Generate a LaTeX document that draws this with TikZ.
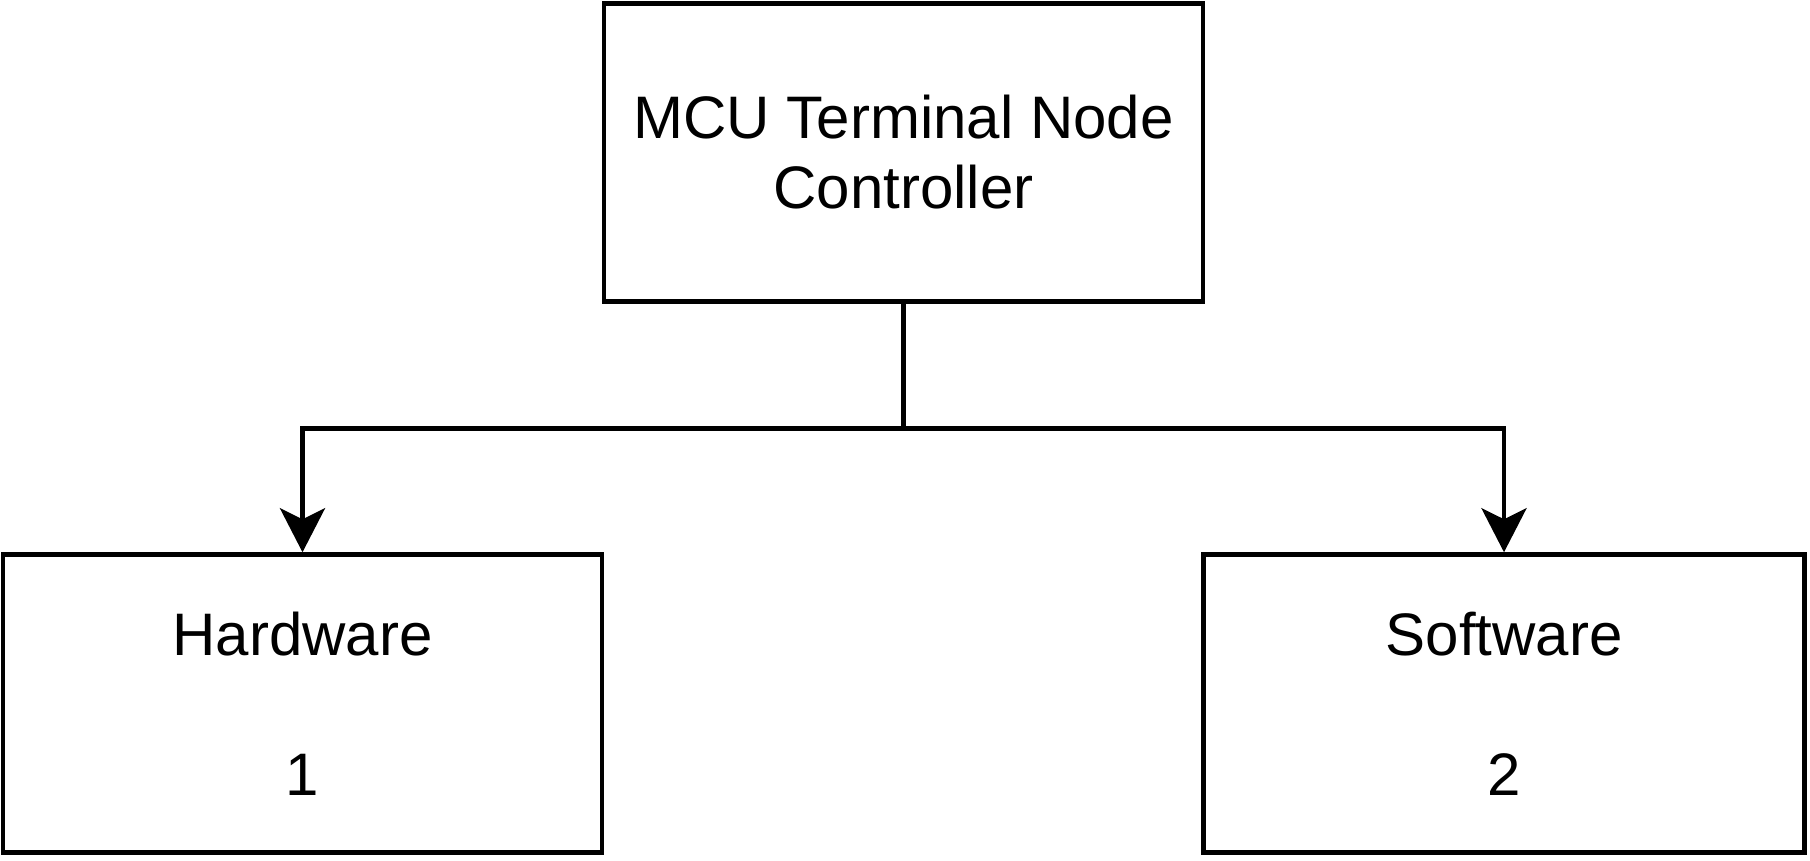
\documentclass[tikz,border=0pt]{standalone}
\usepackage{fontspec}
\setmainfont{Liberation Sans}
\usetikzlibrary{arrows.meta}

\tikzset{
    block/.style={draw, line width=4.5pt, minimum width=599pt, minimum height=298pt, align=center, font=\fontsize{60}{70}\selectfont},
    branch/.style={line width=4.5pt, -{Stealth[length=44pt, width=45pt, inset=11pt]}}
}

\begin{document}
\begin{tikzpicture}[x=1pt,y=1pt]
                    \useasboundingbox (0,0) rectangle (1810,860);
                    \node[block] (MCU node) at (903.5,707.5) {MCU Terminal Node\\Controller};
                    \node[block] (HW node) at (302.5,156.5) {Hardware\\[70pt]1};
                    \node[block, minimum width=601pt] (SW node) at (1504,156.5) {Software\\[70pt]2};
                    \coordinate (split) at ([yshift=-125pt]MCU node.south);
                    \draw[line width=4.5pt] (MCU node.south) -- (split);
                    \draw[branch] (split) -| (HW node.north);
                    \draw[branch] (split) -| (SW node.north);

                \end{tikzpicture}
\end{document}
